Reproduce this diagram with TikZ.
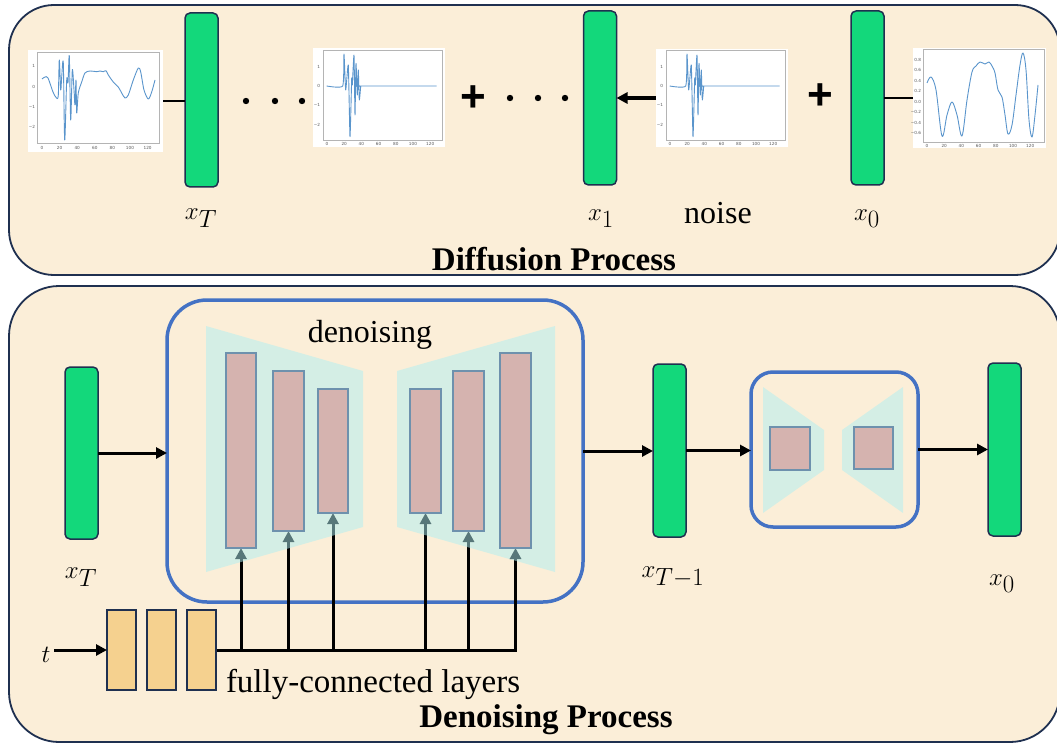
\documentclass[tikz,border=0pt]{standalone}
\usepackage{fontspec}
\setmainfont{Liberation Serif}
\newfontfamily\tickfont{DejaVu Sans}
\newfontfamily\plusfont{Liberation Sans}
\usetikzlibrary{arrows.meta}
\pgfdeclarelayer{back}
\pgfdeclarelayer{lines}
\pgfdeclarelayer{trap}
\pgfsetlayers{back,lines,trap,main}
\definecolor{cream}{HTML}{FBEED8}
\definecolor{navy}{HTML}{1F3050}
\definecolor{grn}{HTML}{13D87B}
\definecolor{boxblue}{HTML}{4472C4}
\definecolor{tealc}{RGB}{175,238,242}
\definecolor{pinkc}{HTML}{D5B3AF}
\definecolor{pinkedge}{HTML}{6E91AD}
\definecolor{orng}{HTML}{F5D18F}
\definecolor{mplblue}{HTML}{5A95CC}
\definecolor{axgray}{HTML}{B4B4B4}
\newcommand\mylbl{\fontsize{35}{40}\selectfont}
\begin{document}
\begin{tikzpicture}[x=1pt,y=-1pt,
  every node/.style={inner sep=0pt, outer sep=0pt},
  panel/.style={draw=navy, fill=cream, line width=1.8pt, rounded corners=45pt},
  gbar/.style={draw=navy, fill=grn, line width=1.5pt, rounded corners=5pt, minimum width=33pt, minimum height=174pt},
  plotbg/.style={fill=white},
  axframe/.style={draw=axgray, line width=0.8pt},
  curve/.style={draw=mplblue, line width=0.9pt, line join=round},
  tk/.style={font=\tickfont\fontsize{4.2}{5}\selectfont, text=black!65},
  thinline/.style={line width=2pt},
  arr/.style={-{Triangle[length=11pt,width=11pt]}, line width=3pt},
  blueframe/.style={draw=boxblue, line width=3.5pt, rounded corners=40pt},
  trapfill/.style={fill=tealc, fill opacity=0.5},
  pbar/.style={draw=pinkedge, fill=pinkc, line width=1.8pt},
  fcbox/.style={draw=navy, fill=orng, line width=1.5pt, minimum width=29pt, minimum height=80pt},
  plus/.style={font=\plusfont\bfseries\fontsize{44}{44}\selectfont}
]
\useasboundingbox (0,0) rectangle (1057,746);

\begin{pgfonlayer}{back}
\draw[panel] (9,5) rectangle (1060,275);
\draw[panel, rounded corners=50pt] (9,286) rectangle (1060,742);
\end{pgfonlayer}

% ---------------- Diffusion process ----------------
\node[gbar] (gT) at (201.5,100) {};
\node[gbar] (g1) at (600,98) {};
\node[gbar] (g0) at (867.5,98) {};

% plot 1
\node[plotbg, minimum width=135pt, minimum height=102pt] (p1) at (95.5,101) {};
\draw[axframe] (37,52) rectangle (159,143);
\draw[curve] plot[smooth, tension=0.5] coordinates {(42,79) (45,77) (48,78) (53,92) (56.5,98) (58.3,95) (59.3,60) (60.7,90) (61.7,77) (63.3,63) (64.7,140) (66.7,80) (68,83) (69.3,56) (70.7,120) (72.3,70) (74,90) (75,105) (76,80) (76.7,113) (78.3,93) (81.7,82) (85,73) (90,71) (96.7,71.7) (100,71) (103.3,71.7) (106,70.7) (108.3,75) (113.3,82) (118.3,87) (121.7,93) (125,98) (128.3,95) (133.3,80) (138.3,68) (140.7,72) (144,90) (148.3,99) (151.7,92) (155,80)};
\foreach \v/\l [count=\i] in {66/1,87/0,107/−1,127/−2}
  \node[tk, anchor=east] (p1y\i) at (35,\v) {\l};
\foreach \l [count=\i] in {0,20,40,60,80,100,120}
  \node[tk, anchor=north] (p1x\i) at ({42+17.6*(\i-1)},146) {\l};

% plot 2 and 3 (noise)
\node[plotbg, minimum width=132pt, minimum height=99pt] (p2) at (379,97.5) {};
\node[plotbg, minimum width=132pt, minimum height=98pt] (p3) at (722,98) {};
\foreach \s/\n in {0/2,343/3}{
  \begin{scope}[xshift=\s pt]
  \draw[axframe] (323,50) rectangle (442,140);
  \draw[curve] plot[smooth, tension=0.3] coordinates {(326.7,86) (342.7,86) (344,54) (345.7,90) (348.3,65) (350,136.7) (351.7,78.3) (352.3,85) (354,55) (355,115) (356,63.3) (357.3,95) (358.3,70) (359.3,100) (360.7,86.7) (361.7,86) (436.7,86)};
  \foreach \v/\l [count=\i] in {67/1,86/0,105/−1,125/−2}
    \node[tk, anchor=east] (p\n y\i) at (320,\v) {\l};
  \foreach \l [count=\i] in {0,20,40,60,80,100,120}
    \node[tk, anchor=north] (p\n x\i) at ({327+17.2*(\i-1)},142.5) {\l};
  \end{scope}
}

% plot 4
\node[plotbg, minimum width=133pt, minimum height=100pt] (p4) at (979.5,98) {};
\draw[axframe] (923,49) rectangle (1044,142);
\draw[curve] plot[smooth, tension=0.55] coordinates {(927,83) (931,77) (936,90) (942,136) (947,115) (952,102) (957,115) (962,136) (967,100) (972,72) (976,66) (980,62) (985,64) (989,62) (992,66) (995,73) (998,90) (1002,97) (1005,115) (1008,134) (1012,125) (1016,95) (1020,65) (1023,53) (1026,70) (1029,120) (1032,137) (1035,115) (1038,85)};
\foreach \v/\l [count=\i] in {60/0.8,70/0.6,81/0.4,91/0.2,102/0.0,112/−0.2,123/−0.4,133/−0.6}
  \node[tk, anchor=east] (p4y\i) at (921,\v) {\l};
\foreach \l [count=\i] in {0,20,40,60,80,100,120}
  \node[tk, anchor=north] (p4x\i) at ({927+17.2*(\i-1)},144.5) {\l};

% connectors top
\draw[thinline] (p1.east) -- (p1.east -| gT.west);
\draw[arr, line width=4pt] (p3.west) -- (p3.west -| g1.east);
\draw[thinline] (g0.east) -- (g0.east -| p4.west);

% dots and pluses
\foreach \x in {246,275,302} \fill (\x,101) circle (3.2pt);
\foreach \x in {510,538,565} \fill (\x,98) circle (3.2pt);
\node[plus] (plusA) at (473,99) {+};
\node[plus] (plusB) at (820,97) {+};

% labels top
\node[anchor=base] (lxT) at (201,219) {\mylbl $x_T$};
\node[anchor=base] (lx1) at (601,220) {\mylbl $x_1$};
\node[anchor=base, font=\fontsize{32}{36}\selectfont] (lnoise) at (718,223) {noise};
\node[anchor=base] (lx0) at (867,220) {\mylbl $x_0$};
\node[anchor=base, font=\fontsize{33}{36}\selectfont\bfseries] (ldiff) at (554,270) {Diffusion Process};

% ---------------- Denoising process ----------------
\node[gbar, minimum height=172pt] (bT) at (81.5,453) {};
\node[gbar, minimum height=173pt] (bT1) at (669.5,450.5) {};
\node[gbar, minimum height=173pt] (b0) at (1004.5,449.5) {};

\begin{pgfonlayer}{back}
\node[blueframe, minimum width=416pt, minimum height=302pt] (unet) at (375,451) {};
\node[blueframe, rounded corners=22pt, minimum width=167pt, minimum height=155pt] (small) at (834.5,449.5) {};
\end{pgfonlayer}

\begin{pgfonlayer}{trap}
\fill[trapfill] (206,326) -- (363,371) -- (363,527) -- (206,572) -- cycle;
\fill[trapfill] (397,371) -- (555,326) -- (555,572) -- (397,527) -- cycle;
\fill[trapfill] (763,387) -- (824,430) -- (824,470) -- (763,513) -- cycle;
\fill[trapfill] (842,430) -- (903,387) -- (903,513) -- (842,470) -- cycle;
\end{pgfonlayer}

\node[pbar, minimum width=30pt, minimum height=195pt] (b1) at (241,450.5) {};
\node[pbar, minimum width=31pt, minimum height=160pt] (b2) at (288.5,451) {};
\node[pbar, minimum width=30pt, minimum height=124pt] (b3) at (333,451) {};
\node[pbar, minimum width=31pt, minimum height=124pt] (b4) at (425.5,451) {};
\node[pbar, minimum width=31pt, minimum height=160pt] (b5) at (468.5,451) {};
\node[pbar, minimum width=31pt, minimum height=195pt] (b6) at (515.5,450.5) {};
\node[pbar, minimum width=40pt, minimum height=43pt] (s1) at (790,448.5) {};
\node[pbar, minimum width=39pt, minimum height=42pt] (s2) at (873.5,448) {};

\node[fcbox] (f1) at (121.5,650) {};
\node[fcbox] (f2) at (161.5,650) {};
\node[fcbox] (f3) at (201.5,650) {};

\node[anchor=base] (lt) at (46,662) {\mylbl $t$};

\begin{pgfonlayer}{lines}
\foreach \b in {b1,b2,b3,b4,b5,b6}
  \draw[arr] (f3.east) -| (\b.south);
\end{pgfonlayer}

\draw[arr] ([xshift=4pt]lt.east |- f1.west) -- (f1.west);
\draw[arr] (bT.east) -- (bT.east -| unet.west);
\draw[arr] (unet.east) -- (unet.east -| bT1.west);
\draw[arr] (bT1.east) -- (bT1.east -| small.west);
\draw[arr] (small.east) -- (small.east -| b0.west);

\node[anchor=base, font=\fontsize{32}{36}\selectfont] (lden) at (370,342) {denoising};
\node[anchor=base west, font=\fontsize{33}{36}\selectfont] (lfc) at (226,692) {fully-connected layers};
\node[anchor=base] (lbT) at (81,578) {\mylbl $x_T$};
\node[anchor=base] (lbT1) at (673,577) {\mylbl $x_{T-1}$};
\node[anchor=base] (lb0) at (1002,585) {\mylbl $x_0$};
\node[anchor=base, font=\fontsize{33}{36}\selectfont\bfseries] (ldenp) at (546,727) {Denoising Process};
\end{tikzpicture}
\end{document}
